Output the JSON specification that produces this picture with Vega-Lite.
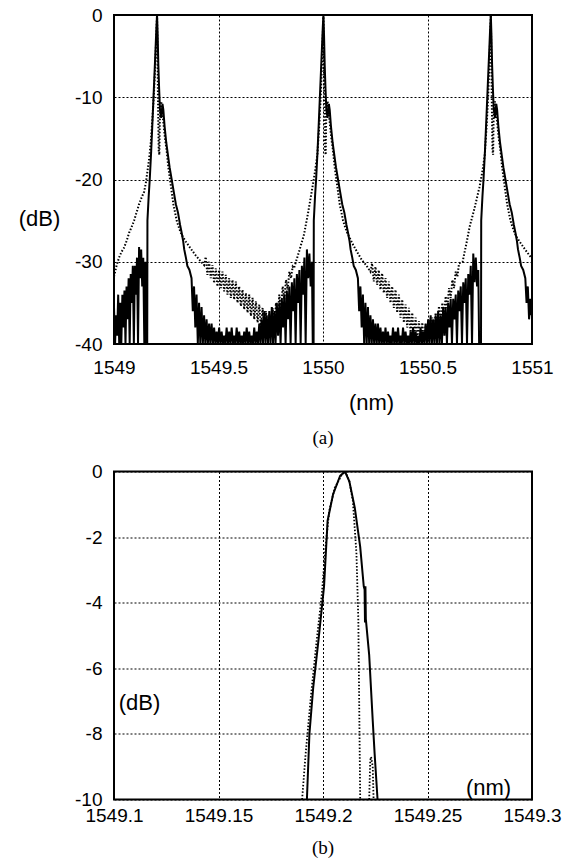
{
"$schema": "https://vega.github.io/schema/vega-lite/v6.json",
"background": "white",
"padding": {"left": 17, "top": 5, "right": 5, "bottom": 5},
"bounds": "flush",
"spacing": 127.5,
"config": {
 "view": {"stroke": "black", "strokeWidth": 2},
 "axis": {"grid": true, "gridColor": "black", "gridDash": [2, 2], "gridWidth": 1, "gridOpacity": 1, "domain": false, "ticks": false, "tickSize": 0, "labelFont": "Liberation Sans", "labelFontSize": 19, "labelColor": "black", "labelFlush": false, "labelOverlap": false, "titleFont": "Liberation Sans", "titleFontSize": 22, "titleFontWeight": "normal", "titleColor": "black"},
 "title": {"font": "Liberation Serif", "fontSize": 19, "fontWeight": "normal", "color": "black"}
},
"datasets": {
 "a_solid": [
 {"x":1549.000,"y":-35.5},{"x":1549.005,"y":-40},{"x":1549.010,"y":-36.5},{"x":1549.015,"y":-39},{"x":1549.020,"y":-34},{"x":1549.025,"y":-40},{"x":1549.030,"y":-35},{"x":1549.035,"y":-40},{"x":1549.040,"y":-34},{"x":1549.045,"y":-38},{"x":1549.050,"y":-33.5},{"x":1549.055,"y":-40},{"x":1549.060,"y":-33},{"x":1549.065,"y":-37},{"x":1549.070,"y":-32},{"x":1549.075,"y":-40},{"x":1549.080,"y":-31.5},{"x":1549.085,"y":-35},{"x":1549.090,"y":-30.5},{"x":1549.095,"y":-40},{"x":1549.100,"y":-30.5},{"x":1549.105,"y":-34},{"x":1549.110,"y":-29.5},{"x":1549.115,"y":-40},{"x":1549.120,"y":-28.2},{"x":1549.125,"y":-32},{"x":1549.130,"y":-28.5},{"x":1549.135,"y":-33},{"x":1549.140,"y":-29.5},{"x":1549.145,"y":-40},{"x":1549.150,"y":-30},{"x":1549.154,"y":-40},
 {"x":1549.159,"y":-40},{"x":1549.160,"y":-25},{"x":1549.166,"y":-22},{"x":1549.171,"y":-20},{"x":1549.178,"y":-16.5},{"x":1549.184,"y":-13},{"x":1549.189,"y":-10},{"x":1549.194,"y":-7},{"x":1549.199,"y":-4},{"x":1549.203,"y":-1.5},{"x":1549.206,"y":0},{"x":1549.209,"y":-2.5},{"x":1549.212,"y":-6},{"x":1549.216,"y":-9},{"x":1549.220,"y":-11.5},{"x":1549.226,"y":-12.5},{"x":1549.232,"y":-10.8},{"x":1549.236,"y":-11.5},{"x":1549.242,"y":-13.5},{"x":1549.250,"y":-15.5},{"x":1549.258,"y":-17},{"x":1549.266,"y":-18.5},{"x":1549.276,"y":-20},{"x":1549.286,"y":-21.5},{"x":1549.296,"y":-23},{"x":1549.306,"y":-24},{"x":1549.316,"y":-25.5},{"x":1549.324,"y":-26.5},{"x":1549.331,"y":-27.5},{"x":1549.336,"y":-28.5},{"x":1549.344,"y":-29.5},{"x":1549.351,"y":-30.5},{"x":1549.361,"y":-31},{"x":1549.371,"y":-32},
 {"x":1549.377,"y":-36},{"x":1549.383,"y":-33},{"x":1549.389,"y":-38},{"x":1549.395,"y":-34},{"x":1549.401,"y":-40},{"x":1549.407,"y":-35},{"x":1549.413,"y":-40},{"x":1549.419,"y":-35.5},{"x":1549.425,"y":-40},{"x":1549.431,"y":-36.5},{"x":1549.437,"y":-40},{"x":1549.443,"y":-37},{"x":1549.449,"y":-40},{"x":1549.455,"y":-37.5},{"x":1549.461,"y":-40},{"x":1549.467,"y":-37.5},{"x":1549.473,"y":-40},{"x":1549.479,"y":-38},{"x":1549.485,"y":-40},{"x":1549.491,"y":-38.5},{"x":1549.497,"y":-40},{"x":1549.503,"y":-38},{"x":1549.509,"y":-40},{"x":1549.515,"y":-38.5},{"x":1549.521,"y":-40},{"x":1549.527,"y":-39},{"x":1549.533,"y":-40},{"x":1549.539,"y":-38},{"x":1549.545,"y":-40},{"x":1549.551,"y":-38.5},{"x":1549.557,"y":-40},{"x":1549.563,"y":-38},{"x":1549.569,"y":-40},{"x":1549.575,"y":-39},{"x":1549.581,"y":-40},{"x":1549.587,"y":-38},{"x":1549.593,"y":-40},{"x":1549.599,"y":-38.5},{"x":1549.605,"y":-40},{"x":1549.611,"y":-39},{"x":1549.617,"y":-40},{"x":1549.623,"y":-38.5},{"x":1549.629,"y":-40},{"x":1549.635,"y":-38},{"x":1549.641,"y":-40},{"x":1549.647,"y":-38.5},{"x":1549.653,"y":-40},{"x":1549.659,"y":-39},{"x":1549.665,"y":-40},{"x":1549.671,"y":-38},{"x":1549.677,"y":-40},{"x":1549.683,"y":-38.5},{"x":1549.689,"y":-40},{"x":1549.695,"y":-37.5},{"x":1549.701,"y":-40},{"x":1549.707,"y":-37},{"x":1549.713,"y":-40},{"x":1549.719,"y":-36},{"x":1549.725,"y":-40},{"x":1549.731,"y":-36.5},{"x":1549.737,"y":-40},{"x":1549.743,"y":-36},{"x":1549.749,"y":-40},{"x":1549.755,"y":-35.5},{"x":1549.761,"y":-40},{"x":1549.767,"y":-36},{"x":1549.773,"y":-40},{"x":1549.779,"y":-35},{"x":1549.785,"y":-39},{"x":1549.791,"y":-35},{"x":1549.797,"y":-40},{"x":1549.803,"y":-34.5},{"x":1549.809,"y":-38},{"x":1549.815,"y":-34},{"x":1549.821,"y":-40},{"x":1549.827,"y":-33.5},{"x":1549.833,"y":-37},{"x":1549.839,"y":-33},{"x":1549.845,"y":-40},{"x":1549.851,"y":-32.5},{"x":1549.857,"y":-36},{"x":1549.863,"y":-32},{"x":1549.869,"y":-40},{"x":1549.875,"y":-31.5},{"x":1549.881,"y":-35},{"x":1549.887,"y":-31},{"x":1549.893,"y":-40},{"x":1549.899,"y":-30.5},{"x":1549.905,"y":-34},{"x":1549.911,"y":-29.5},{"x":1549.917,"y":-40},{"x":1549.923,"y":-28.5},{"x":1549.929,"y":-32},{"x":1549.935,"y":-29},{"x":1549.941,"y":-33},{"x":1549.947,"y":-30},{"x":1549.951,"y":-40},{"x":1549.955,"y":-40},
 {"x":1549.956,"y":-25},{"x":1549.962,"y":-22},{"x":1549.967,"y":-20},{"x":1549.974,"y":-16.5},{"x":1549.980,"y":-13},{"x":1549.985,"y":-10},{"x":1549.990,"y":-7},{"x":1549.995,"y":-4},{"x":1549.999,"y":-1.5},{"x":1550.002,"y":0},{"x":1550.005,"y":-2.5},{"x":1550.008,"y":-6},{"x":1550.012,"y":-9},{"x":1550.016,"y":-11.5},{"x":1550.022,"y":-12.5},{"x":1550.028,"y":-10.8},{"x":1550.032,"y":-11.5},{"x":1550.038,"y":-13.5},{"x":1550.046,"y":-15.5},{"x":1550.054,"y":-17},{"x":1550.062,"y":-18.5},{"x":1550.072,"y":-20},{"x":1550.082,"y":-21.5},{"x":1550.092,"y":-23},{"x":1550.102,"y":-24},{"x":1550.112,"y":-25.5},{"x":1550.120,"y":-26.5},{"x":1550.127,"y":-27.5},{"x":1550.132,"y":-28.5},{"x":1550.140,"y":-29.5},{"x":1550.147,"y":-30.5},{"x":1550.157,"y":-31},{"x":1550.167,"y":-32},
 {"x":1550.173,"y":-36},{"x":1550.179,"y":-33},{"x":1550.185,"y":-38},{"x":1550.191,"y":-34},{"x":1550.197,"y":-40},{"x":1550.203,"y":-35},{"x":1550.209,"y":-40},{"x":1550.215,"y":-35.5},{"x":1550.221,"y":-40},{"x":1550.227,"y":-36.5},{"x":1550.233,"y":-40},{"x":1550.239,"y":-37},{"x":1550.245,"y":-40},{"x":1550.251,"y":-37.5},{"x":1550.257,"y":-40},{"x":1550.263,"y":-37.5},{"x":1550.269,"y":-40},{"x":1550.275,"y":-38},{"x":1550.281,"y":-40},{"x":1550.287,"y":-38.5},{"x":1550.293,"y":-40},{"x":1550.299,"y":-38},{"x":1550.305,"y":-40},{"x":1550.311,"y":-38.5},{"x":1550.317,"y":-40},{"x":1550.323,"y":-39},{"x":1550.329,"y":-40},{"x":1550.335,"y":-38},{"x":1550.341,"y":-40},{"x":1550.347,"y":-38.5},{"x":1550.353,"y":-40},{"x":1550.359,"y":-38},{"x":1550.365,"y":-40},{"x":1550.371,"y":-39},{"x":1550.377,"y":-40},{"x":1550.383,"y":-38},{"x":1550.389,"y":-40},{"x":1550.395,"y":-38.5},{"x":1550.401,"y":-40},{"x":1550.407,"y":-39},{"x":1550.413,"y":-40},{"x":1550.419,"y":-38.5},{"x":1550.425,"y":-40},{"x":1550.431,"y":-38},{"x":1550.437,"y":-40},{"x":1550.443,"y":-38.5},{"x":1550.449,"y":-40},{"x":1550.455,"y":-39},{"x":1550.461,"y":-40},{"x":1550.467,"y":-38},{"x":1550.473,"y":-40},{"x":1550.479,"y":-38.5},{"x":1550.485,"y":-40},{"x":1550.491,"y":-37.5},{"x":1550.497,"y":-40},{"x":1550.503,"y":-37},{"x":1550.509,"y":-40},{"x":1550.515,"y":-36.5},{"x":1550.521,"y":-40},{"x":1550.527,"y":-37},{"x":1550.533,"y":-40},{"x":1550.539,"y":-36.5},{"x":1550.545,"y":-40},{"x":1550.551,"y":-36},{"x":1550.557,"y":-40},{"x":1550.563,"y":-36.5},{"x":1550.569,"y":-40},{"x":1550.575,"y":-35.5},{"x":1550.581,"y":-39},{"x":1550.587,"y":-35.5},{"x":1550.593,"y":-40},{"x":1550.599,"y":-35},{"x":1550.605,"y":-38},{"x":1550.611,"y":-34.5},{"x":1550.617,"y":-40},{"x":1550.623,"y":-34.5},{"x":1550.629,"y":-37},{"x":1550.635,"y":-34},{"x":1550.641,"y":-40},{"x":1550.647,"y":-33.5},{"x":1550.653,"y":-36},{"x":1550.659,"y":-33},{"x":1550.665,"y":-40},{"x":1550.671,"y":-32.5},{"x":1550.677,"y":-35},{"x":1550.683,"y":-32},{"x":1550.689,"y":-40},{"x":1550.695,"y":-31.5},{"x":1550.701,"y":-34},{"x":1550.707,"y":-30.5},{"x":1550.713,"y":-40},{"x":1550.719,"y":-29},{"x":1550.725,"y":-32.5},{"x":1550.731,"y":-29.5},{"x":1550.737,"y":-33},{"x":1550.743,"y":-31},{"x":1550.747,"y":-40},{"x":1550.751,"y":-40},
 {"x":1550.756,"y":-40},{"x":1550.757,"y":-25},{"x":1550.763,"y":-22},{"x":1550.768,"y":-20},{"x":1550.775,"y":-16.5},{"x":1550.781,"y":-13},{"x":1550.786,"y":-10},{"x":1550.791,"y":-7},{"x":1550.796,"y":-4},{"x":1550.800,"y":-1.5},{"x":1550.803,"y":0},{"x":1550.806,"y":-2.5},{"x":1550.809,"y":-6},{"x":1550.813,"y":-9},{"x":1550.817,"y":-11.5},{"x":1550.823,"y":-12.5},{"x":1550.829,"y":-10.8},{"x":1550.833,"y":-11.5},{"x":1550.839,"y":-13.5},{"x":1550.847,"y":-15.5},{"x":1550.855,"y":-17},{"x":1550.863,"y":-18.5},{"x":1550.873,"y":-20},{"x":1550.883,"y":-21.5},{"x":1550.893,"y":-23},{"x":1550.903,"y":-24},{"x":1550.913,"y":-25.5},{"x":1550.921,"y":-26.5},{"x":1550.928,"y":-27.5},{"x":1550.933,"y":-28.5},{"x":1550.941,"y":-29.5},{"x":1550.948,"y":-30.5},{"x":1550.958,"y":-31},{"x":1550.968,"y":-32},{"x":1550.974,"y":-35},{"x":1550.980,"y":-33},{"x":1550.986,"y":-37},{"x":1550.992,"y":-34.5},{"x":1550.997,"y":-36.5},{"x":1551.000,"y":-35}
 ],
 "a_dot": [
 {"x":1549.000,"y":-31.8},{"x":1549.012,"y":-30.5},{"x":1549.024,"y":-29.5},{"x":1549.036,"y":-28.8},{"x":1549.048,"y":-28.3},{"x":1549.060,"y":-27.5},{"x":1549.072,"y":-26.5},{"x":1549.084,"y":-25.8},{"x":1549.096,"y":-25},{"x":1549.108,"y":-24},{"x":1549.120,"y":-23},{"x":1549.132,"y":-22.2},{"x":1549.144,"y":-21.5},{"x":1549.152,"y":-20.5},{"x":1549.160,"y":-19},{"x":1549.168,"y":-17.5},{"x":1549.176,"y":-15.5},{"x":1549.184,"y":-12.5},{"x":1549.190,"y":-10},{"x":1549.195,"y":-7.5},{"x":1549.199,"y":-5},{"x":1549.203,"y":-2},{"x":1549.206,"y":0},
 {"x":1549.208,"y":-4},{"x":1549.210,"y":-9},{"x":1549.212,"y":-13},{"x":1549.214,"y":-16.5},{"x":1549.217,"y":-17},{"x":1549.219,"y":-13},{"x":1549.222,"y":-11},{"x":1549.226,"y":-10.5},{"x":1549.230,"y":-11.5},{"x":1549.236,"y":-13},{"x":1549.244,"y":-15},{"x":1549.252,"y":-16.5},{"x":1549.260,"y":-18.5},{"x":1549.268,"y":-20},{"x":1549.276,"y":-21.5},{"x":1549.284,"y":-23},{"x":1549.292,"y":-24},{"x":1549.300,"y":-25},{"x":1549.310,"y":-25.8},{"x":1549.320,"y":-26.5},{"x":1549.330,"y":-27},{"x":1549.345,"y":-27.6},{"x":1549.367,"y":-28.4},{"x":1549.390,"y":-29.2},{"x":1549.410,"y":-29.8},{"x":1549.431,"y":-30.4},
 {"x":1549.439,"y":-29.4},{"x":1549.447,"y":-31.6},{"x":1549.455,"y":-30.0},{"x":1549.463,"y":-32.0},{"x":1549.471,"y":-30.4},{"x":1549.479,"y":-32.6},{"x":1549.487,"y":-30.8},{"x":1549.495,"y":-33.0},{"x":1549.503,"y":-31.0},{"x":1549.511,"y":-33.2},{"x":1549.519,"y":-31.2},{"x":1549.527,"y":-33.6},{"x":1549.535,"y":-31.6},{"x":1549.543,"y":-34.0},{"x":1549.551,"y":-32.0},{"x":1549.559,"y":-34.4},{"x":1549.567,"y":-32.2},{"x":1549.575,"y":-34.6},{"x":1549.583,"y":-32.4},{"x":1549.591,"y":-35.0},{"x":1549.599,"y":-33.0},{"x":1549.607,"y":-35.4},{"x":1549.615,"y":-33.4},{"x":1549.623,"y":-35.8},{"x":1549.631,"y":-33.8},{"x":1549.639,"y":-36.2},{"x":1549.647,"y":-34.0},{"x":1549.655,"y":-36.6},{"x":1549.663,"y":-34.4},{"x":1549.671,"y":-37.0},{"x":1549.679,"y":-34.8},{"x":1549.687,"y":-37.4},{"x":1549.695,"y":-35.2},{"x":1549.703,"y":-38.0},{"x":1549.711,"y":-35.6},{"x":1549.719,"y":-38.6},{"x":1549.727,"y":-36.0},{"x":1549.735,"y":-39.0},{"x":1549.743,"y":-36.4},{"x":1549.751,"y":-38.8},{"x":1549.759,"y":-35.6},{"x":1549.767,"y":-38.0},{"x":1549.775,"y":-35.0},{"x":1549.783,"y":-37.0},{"x":1549.791,"y":-34.0},{"x":1549.799,"y":-36.0},{"x":1549.807,"y":-33.0},{"x":1549.815,"y":-34.6},{"x":1549.823,"y":-32.2},{"x":1549.831,"y":-33.4},{"x":1549.839,"y":-31.2},{"x":1549.847,"y":-32.0},{"x":1549.855,"y":-30.6},{"x":1549.861,"y":-30.8},
 {"x":1549.885,"y":-28.8},{"x":1549.909,"y":-26.7},{"x":1549.929,"y":-24},{"x":1549.949,"y":-21},{"x":1549.962,"y":-19},{"x":1549.973,"y":-17},{"x":1549.982,"y":-13.5},{"x":1549.989,"y":-10},{"x":1549.995,"y":-6},{"x":1549.999,"y":-2.5},{"x":1550.002,"y":0},
 {"x":1550.004,"y":-4},{"x":1550.006,"y":-9},{"x":1550.008,"y":-13},{"x":1550.010,"y":-16.5},{"x":1550.013,"y":-17},{"x":1550.015,"y":-13},{"x":1550.018,"y":-11},{"x":1550.022,"y":-10.5},{"x":1550.026,"y":-11.5},{"x":1550.032,"y":-13},{"x":1550.040,"y":-15},{"x":1550.048,"y":-16.5},{"x":1550.056,"y":-18.5},{"x":1550.064,"y":-20},{"x":1550.072,"y":-21.5},{"x":1550.080,"y":-23},{"x":1550.088,"y":-24},{"x":1550.096,"y":-25},{"x":1550.106,"y":-25.8},{"x":1550.116,"y":-26.5},{"x":1550.126,"y":-27},{"x":1550.141,"y":-27.8},{"x":1550.163,"y":-28.8},{"x":1550.186,"y":-29.8},{"x":1550.206,"y":-30.4},{"x":1550.227,"y":-31.2},
 {"x":1550.235,"y":-30.2},{"x":1550.243,"y":-32.4},{"x":1550.251,"y":-30.6},{"x":1550.259,"y":-32.8},{"x":1550.267,"y":-31.0},{"x":1550.275,"y":-33.4},{"x":1550.283,"y":-31.4},{"x":1550.291,"y":-33.8},{"x":1550.299,"y":-32.0},{"x":1550.307,"y":-34.4},{"x":1550.315,"y":-32.4},{"x":1550.323,"y":-35.0},{"x":1550.331,"y":-33.0},{"x":1550.339,"y":-35.6},{"x":1550.347,"y":-33.4},{"x":1550.355,"y":-36.2},{"x":1550.363,"y":-34.0},{"x":1550.371,"y":-36.8},{"x":1550.379,"y":-34.6},{"x":1550.387,"y":-37.4},{"x":1550.395,"y":-35.2},{"x":1550.403,"y":-38.0},{"x":1550.411,"y":-35.6},{"x":1550.419,"y":-38.6},{"x":1550.427,"y":-36.2},{"x":1550.435,"y":-39.2},{"x":1550.443,"y":-36.8},{"x":1550.451,"y":-39.6},{"x":1550.459,"y":-37.2},{"x":1550.467,"y":-39.8},{"x":1550.475,"y":-37.4},{"x":1550.483,"y":-40},{"x":1550.491,"y":-37.6},{"x":1550.499,"y":-39.6},{"x":1550.507,"y":-37.0},{"x":1550.515,"y":-39.4},{"x":1550.523,"y":-36.8},{"x":1550.531,"y":-38.8},{"x":1550.539,"y":-36.2},{"x":1550.547,"y":-38.0},{"x":1550.555,"y":-35.4},{"x":1550.563,"y":-37.4},{"x":1550.571,"y":-35.0},{"x":1550.579,"y":-36.6},{"x":1550.587,"y":-34.2},{"x":1550.595,"y":-35.6},{"x":1550.603,"y":-33.2},{"x":1550.611,"y":-34.4},{"x":1550.619,"y":-32.2},{"x":1550.627,"y":-33.2},{"x":1550.635,"y":-31.2},{"x":1550.643,"y":-31.8},{"x":1550.651,"y":-30.2},
 {"x":1550.668,"y":-30.0},{"x":1550.686,"y":-27.8},{"x":1550.702,"y":-25.7},{"x":1550.725,"y":-23.5},{"x":1550.748,"y":-21},{"x":1550.763,"y":-19},{"x":1550.774,"y":-17},{"x":1550.783,"y":-13.5},{"x":1550.790,"y":-10},{"x":1550.796,"y":-6},{"x":1550.800,"y":-2.5},{"x":1550.803,"y":0},
 {"x":1550.805,"y":-4},{"x":1550.807,"y":-9},{"x":1550.809,"y":-13},{"x":1550.811,"y":-16.5},{"x":1550.814,"y":-17},{"x":1550.816,"y":-13},{"x":1550.819,"y":-11},{"x":1550.823,"y":-10.5},{"x":1550.827,"y":-11.5},{"x":1550.833,"y":-13},{"x":1550.841,"y":-15},{"x":1550.849,"y":-16.5},{"x":1550.857,"y":-18.5},{"x":1550.865,"y":-20},{"x":1550.873,"y":-21.5},{"x":1550.881,"y":-23},{"x":1550.889,"y":-24},{"x":1550.897,"y":-25},{"x":1550.907,"y":-25.8},{"x":1550.917,"y":-26.5},{"x":1550.927,"y":-27},{"x":1550.942,"y":-27.6},{"x":1550.964,"y":-28.4},{"x":1550.987,"y":-29.2},{"x":1551.000,"y":-29.6}
 ],
 "b_solid": [
 {"x":1549.1923,"y":-10},{"x":1549.1935,"y":-8},{"x":1549.1953,"y":-6.6},{"x":1549.1979,"y":-5.1},{"x":1549.2005,"y":-3.5},{"x":1549.2022,"y":-1.5},{"x":1549.2048,"y":-0.7},{"x":1549.2082,"y":-0.13},{"x":1549.2105,"y":0},{"x":1549.2126,"y":-0.3},{"x":1549.2152,"y":-1.1},{"x":1549.2178,"y":-2.3},{"x":1549.2195,"y":-3.5},{"x":1549.2199,"y":-3.6},{"x":1549.2201,"y":-4.6},{"x":1549.2203,"y":-3.5},{"x":1549.2205,"y":-4.5},{"x":1549.2221,"y":-5.6},{"x":1549.2238,"y":-7.6},{"x":1549.2247,"y":-8.6},{"x":1549.2261,"y":-10}
 ],
 "b_dot": [
 {"x":1549.1900,"y":-10},{"x":1549.1917,"y":-8.6},{"x":1549.1943,"y":-6.8},{"x":1549.1969,"y":-5.2},{"x":1549.1995,"y":-3.7},{"x":1549.2012,"y":-2.3},{"x":1549.2030,"y":-1.2},{"x":1549.2056,"y":-0.5},{"x":1549.2090,"y":-0.1},{"x":1549.2108,"y":0},{"x":1549.2126,"y":-0.3},{"x":1549.2143,"y":-0.9},{"x":1549.2160,"y":-2.5},{"x":1549.2169,"y":-4.5},{"x":1549.2174,"y":-7.6},{"x":1549.2178,"y":-10}
 ],
 "b_dot2": [
 {"x":1549.2221,"y":-10},{"x":1549.2226,"y":-8.8},{"x":1549.2230,"y":-8.7},{"x":1549.2238,"y":-9.0},{"x":1549.2242,"y":-10}
 ]
},
"vconcat": [
 {
  "width": 418,
  "height": 329,
  "title": {"text": "(a)", "orient": "bottom", "offset": 15},
  "encoding": {
   "x": {"field": "x", "type": "quantitative", "scale": {"domain": [1549, 1551], "nice": false, "zero": false},
    "axis": {"values": [1549, 1549.5, 1550, 1550.5, 1551], "labelExpr": "'' + datum.value", "labelPadding": 14, "title": "(nm)", "titleX": 257, "titleY": 58.5, "titleAlign": "center", "titleBaseline": "middle"}},
   "y": {"field": "y", "type": "quantitative", "scale": {"domain": [-40, 0], "nice": false, "zero": false},
    "axis": {"values": [0, -10, -20, -30, -40], "labelExpr": "'' + datum.value", "labelPadding": 12, "title": "(dB)", "titleAngle": 0, "titleX": -75, "titleY": 203.5, "titleAlign": "center", "titleBaseline": "middle"}}
  },
  "layer": [
   {"data": {"name": "a_dot"}, "mark": {"type": "line", "color": "black", "strokeWidth": 2, "strokeDash": [1.5, 1.8], "clip": true}},
   {"data": {"name": "a_solid"}, "mark": {"type": "line", "color": "black", "strokeWidth": 2, "clip": true}}
  ]
 },
 {
  "width": 418,
  "height": 328,
  "title": {"text": "(b)", "orient": "bottom", "offset": 13},
  "encoding": {
   "x": {"field": "x", "type": "quantitative", "scale": {"domain": [1549.1, 1549.3], "nice": false, "zero": false},
    "axis": {"values": [1549.1, 1549.15, 1549.2, 1549.25, 1549.3], "labelExpr": "'' + datum.value", "labelPadding": 7, "title": "(nm)", "titleX": 374, "titleY": -12, "titleAlign": "center", "titleBaseline": "middle"}},
   "y": {"field": "y", "type": "quantitative", "scale": {"domain": [-10, 0], "nice": false, "zero": false},
    "axis": {"values": [0, -2, -4, -6, -8, -10], "labelExpr": "'' + datum.value", "labelPadding": 12, "title": "(dB)", "titleAngle": 0, "titleX": 25, "titleY": 231, "titleAlign": "center", "titleBaseline": "middle"}}
  },
  "layer": [
   {"data": {"name": "b_dot"}, "mark": {"type": "line", "color": "black", "strokeWidth": 1.8, "strokeDash": [1.5, 1.8], "clip": true}},
   {"data": {"name": "b_dot2"}, "mark": {"type": "line", "color": "black", "strokeWidth": 1.8, "strokeDash": [1.5, 1.8], "clip": true}},
   {"data": {"name": "b_solid"}, "mark": {"type": "line", "color": "black", "strokeWidth": 2, "clip": true}}
  ]
 }
]
}
